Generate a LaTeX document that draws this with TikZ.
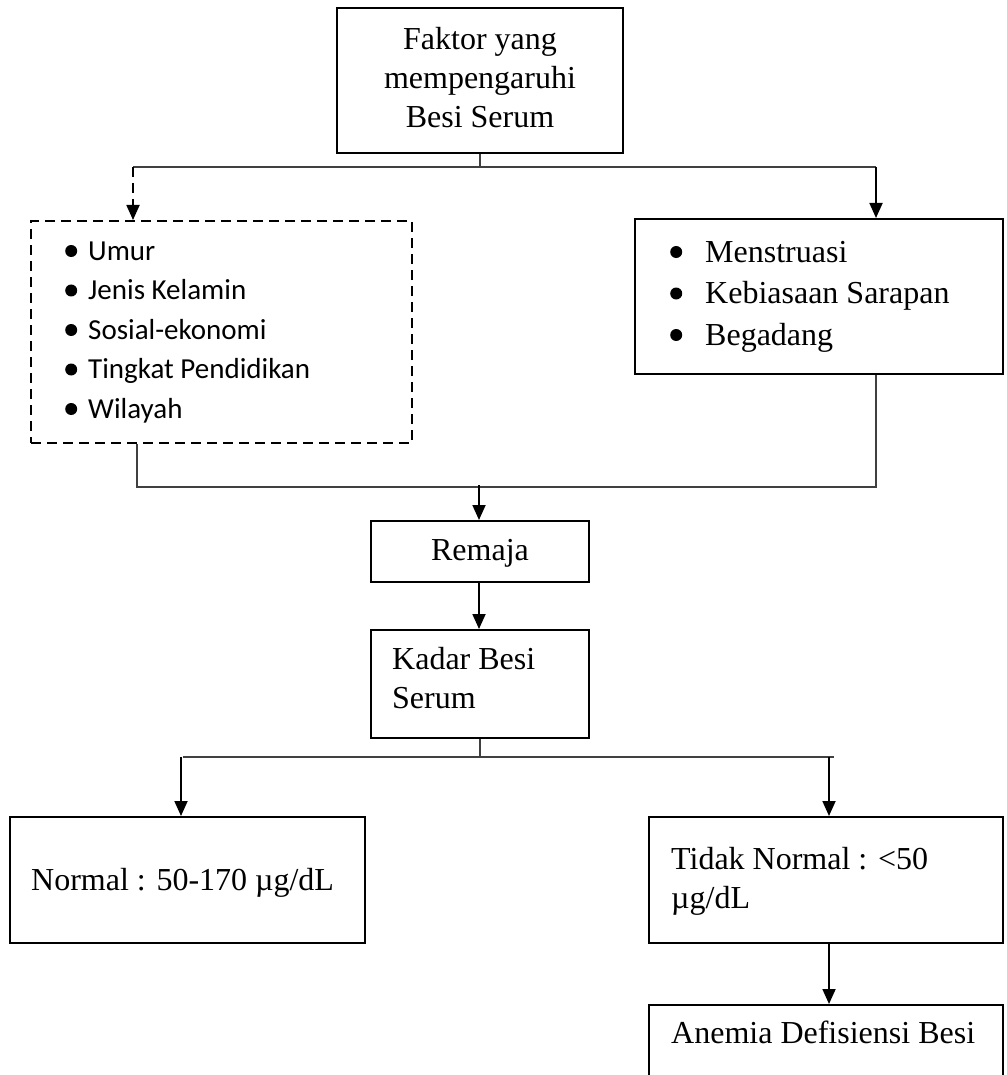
\documentclass[tikz,border=0pt]{standalone}
\usepackage{fontspec}
\setmainfont{Liberation Serif}
\newfontfamily\calib{Carlito}
\usetikzlibrary{arrows.meta}
\newcommand\bdot[3]{\makebox[#1][l]{\tikz[baseline=0pt,x=1pt,y=1pt]\fill[black] (0,#2) circle[radius=#3];}}
\begin{document}
\begin{tikzpicture}[x=1pt,y=-1pt,
  box/.style={draw=black, line width=2pt, inner sep=0pt},
  dbox/.style={draw=black, line width=2pt, inner sep=0pt, dash pattern=on 10pt off 6pt},
  tt/.style={inner sep=0pt, font=\fontsize{32}{39}\selectfont},
  ttl/.style={inner sep=0pt, font=\fontsize{32}{41.5}\selectfont},
  ct/.style={inner sep=0pt, font=\calib\fontsize{29}{39.5}\selectfont},
  link/.style={draw=black!75, line width=1.1pt},
  arr/.style={draw=black, line width=1.8pt, -{Triangle[length=15pt,width=13pt]}},
]
\useasboundingbox (0,0) rectangle (1006,1075);
\fill[white] (0,0) rectangle (1006,1075);

% boxes
\node[box, minimum width=286pt, minimum height=145pt] (top) at (480,80.5) {};
\node[dbox, minimum width=381pt, minimum height=222pt] (left) at (221.5,332) {};
\node[box, minimum width=368pt, minimum height=155pt] (right) at (819,296.5) {};
\node[box, minimum width=218pt, minimum height=61pt] (remaja) at (480,551.5) {};
\node[box, minimum width=218pt, minimum height=108pt] (kadar) at (480,684) {};
\node[box, minimum width=355pt, minimum height=126pt] (normal) at (187.5,880) {};
\node[box, minimum width=354pt, minimum height=126pt] (tidak) at (826,880) {};
\node[box, minimum width=354pt, minimum height=110pt] (anemia) at (826,1060) {};

% texts
\node[tt, anchor=base] (topT) at (480,50)
  {\begin{tabular}[t]{@{}c@{}}Faktor yang\\ mempengaruhi\\ Besi Serum\end{tabular}};
\node[ct, anchor=base west] (leftT) at (65,260)
  {\begin{tabular}[t]{@{}l@{}}
   \bdot{23pt}{9}{6}Umur\\
   \bdot{23pt}{9}{6}Jenis Kelamin\\
   \bdot{23pt}{9}{6}Sosial-ekonomi\\
   \bdot{23pt}{9}{6}Tingkat Pendidikan\\
   \bdot{23pt}{9}{6}Wilayah\end{tabular}};
\node[ttl, anchor=base west] (rightT) at (670,262)
  {\begin{tabular}[t]{@{}l@{}}
   \bdot{35pt}{10}{6}Menstruasi\\
   \bdot{35pt}{10}{6}Kebiasaan Sarapan\\
   \bdot{35pt}{10}{6}Begadang\end{tabular}};
\node[tt, anchor=base] (remajaT) at (480,560) {Remaja};
\node[tt, anchor=base west] (kadarT) at (392,669)
  {\begin{tabular}[t]{@{}l@{}}Kadar Besi\\ Serum\end{tabular}};
\node[tt, anchor=base west] (normalT) at (31,890) {Normal : 50-170 µg/dL};
\node[tt, anchor=base west] (tidakT) at (671,869)
  {\begin{tabular}[t]{@{}l@{}}Tidak Normal : <50\\ µg/dL\end{tabular}};
\node[tt, anchor=base west] (anemiaT) at (671,1043) {Anemia Defisiensi Besi};

% junctions
\coordinate (j1) at (480,167);
\coordinate (jl) at (133,167);
\coordinate (jr) at (876,167);
\coordinate (b1) at (137,487);
\coordinate (b2) at (876,487);
\coordinate (j2) at (479,487);
\coordinate (j3) at (480,757);
\coordinate (jl3) at (181,757);
\coordinate (jr3) at (829,757);

% connectors
\draw[link] (top.south) -- (j1);
\draw[link] (jl) -- (jr);
\draw[arr, dash pattern=on 10pt off 6pt] (jl) -- (jl |- left.north);
\draw[arr] (jr) -- (jr |- right.north);
\draw[link] (left.south -| b1) -- (b1) -- (b2) -- (right.south -| b2);
\draw[arr] ([yshift=2pt]j2) -- (remaja.north -| j2);
\draw[arr] (remaja.south -| j2) -- (kadar.north -| j2);
\draw[link] (kadar.south) -- (j3);
\draw[link] ([xshift=2pt]jl3) -- ([xshift=5pt]jr3);
\draw[arr] (jl3) -- (jl3 |- normal.north);
\draw[arr] (jr3) -- (jr3 |- tidak.north);
\draw[arr] (tidak.south -| jr3) -- (anemia.north -| jr3);
\end{tikzpicture}
\end{document}
